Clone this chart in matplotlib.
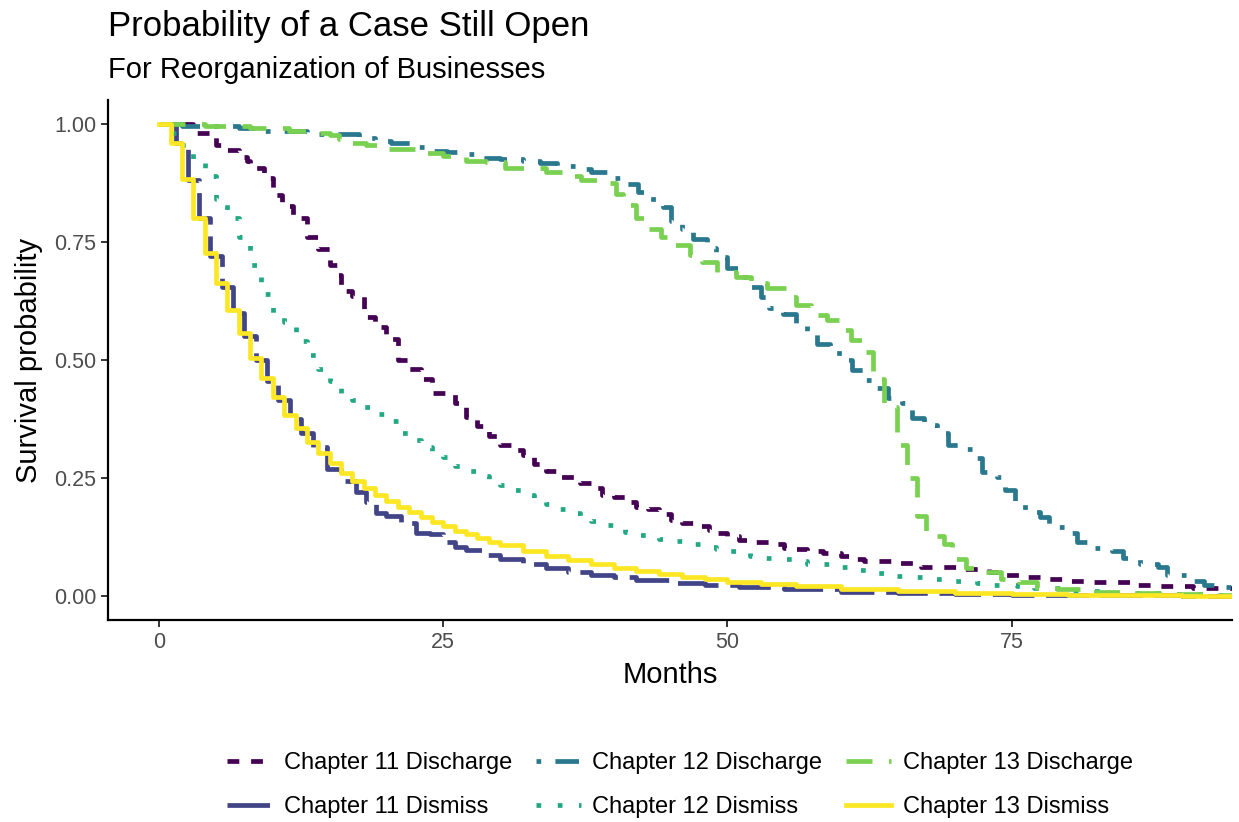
import matplotlib.pyplot as plt

plt.rcParams['font.family'] = ['Liberation Sans', 'DejaVu Sans']

# Kaplan-Meier style step curves (months, survival probability)
ch11_dis_t = [0, 3, 5, 6, 7, 7.7, 8, 9.2, 10, 10.8, 11.8, 13, 14, 15, 15.7, 16, 17, 18, 19, 20,
              21, 22, 23, 24, 26, 27, 28, 29, 30, 31, 32, 33, 34, 35, 37, 38, 39, 40, 41, 42,
              43, 44, 45, 46, 47, 48.4, 49, 50, 51, 52, 54, 55, 56, 57, 58.4, 60, 61, 62, 65,
              67, 70.5, 73, 74.5, 76, 78, 80, 81.5, 85.5, 87.5, 91, 96]
ch11_dis_s = [1.0, 0.98, 0.955, 0.945, 0.93, 0.92, 0.907, 0.885, 0.85, 0.825, 0.80, 0.76, 0.735,
              0.70, 0.68, 0.645, 0.635, 0.59, 0.57, 0.545, 0.50, 0.48, 0.46, 0.43, 0.41, 0.38,
              0.36, 0.34, 0.32, 0.31, 0.30, 0.28, 0.265, 0.253, 0.24, 0.23, 0.215, 0.21, 0.20,
              0.19, 0.184, 0.175, 0.162, 0.155, 0.148, 0.140, 0.135, 0.128, 0.12, 0.114, 0.11,
              0.103, 0.10, 0.095, 0.092, 0.085, 0.08, 0.075, 0.07, 0.063, 0.058, 0.051, 0.046,
              0.042, 0.037, 0.032, 0.03, 0.025, 0.021, 0.017, 0.015]

ch11_dism_t = [0, 1.5, 2.5, 3.5, 4.5, 5.5, 6.5, 7.5, 8.5, 9.5, 10.5, 11.5, 12.5, 13.5, 14.8, 16,
               17.3, 18.2, 19.1, 20, 21.3, 22.6, 23.8, 25, 26, 27, 28.5, 30, 32, 34, 36, 38,
               40, 42, 45, 48, 51, 55, 60, 65, 70, 75, 80, 90, 96]
ch11_dism_s = [1.0, 0.96, 0.88, 0.80, 0.72, 0.655, 0.60, 0.55, 0.50, 0.455, 0.415, 0.375,
               0.345, 0.315, 0.27, 0.245, 0.22, 0.20, 0.177, 0.17, 0.155, 0.135, 0.131, 0.115,
               0.105, 0.099, 0.088, 0.078, 0.068, 0.06, 0.052, 0.045, 0.04, 0.035, 0.029, 0.024,
               0.02, 0.015, 0.01, 0.007, 0.004, 0.003, 0.002, 0.001, 0.001]

ch12_dis_t = [0, 2, 7, 9, 13, 17.6, 19, 20.4, 22.2, 23.8, 25.3, 27, 28.4, 30, 32, 33.5, 35,
              36.7, 38, 39.5, 40.8, 42.1, 43, 44.3, 45, 46, 47, 48.2, 49, 50, 51, 52, 53, 53.7,
              54.9, 56, 57, 57.9, 59, 60.1, 61, 62, 62.8, 64.1, 65.4, 66.2, 67.3, 68.4, 69.4,
              70.7, 71.7, 72.4, 73.7, 74.4, 75.3, 76.2, 77.5, 78.3, 79.8, 80.8, 82.3, 83.8,
              84.8, 86.3, 87.9, 88.7, 90.5, 91.9, 93.6, 96]
ch12_dis_s = [1.0, 0.995, 0.99, 0.984, 0.978, 0.97, 0.964, 0.958, 0.95, 0.943, 0.939, 0.935,
              0.928, 0.926, 0.92, 0.916, 0.911, 0.905, 0.897, 0.886, 0.873, 0.856, 0.84, 0.823,
              0.795, 0.778, 0.757, 0.736, 0.717, 0.694, 0.675, 0.654, 0.633, 0.61, 0.597, 0.574,
              0.557, 0.534, 0.515, 0.50, 0.479, 0.458, 0.441, 0.42, 0.409, 0.378, 0.363, 0.346,
              0.321, 0.312, 0.293, 0.264, 0.253, 0.226, 0.198, 0.179, 0.167, 0.146, 0.135,
              0.116, 0.103, 0.095, 0.082, 0.068, 0.063, 0.046, 0.032, 0.025, 0.02, 0.018]

ch12_dism_t = [0, 1, 2, 3, 4, 5, 6, 7, 8, 9, 10, 11, 12, 13, 14, 15, 16, 17, 18, 19, 20, 21,
               22, 23, 24, 25, 26, 27, 28, 29, 30, 31, 32, 33, 34, 35, 36, 37, 38, 39, 40, 41,
               42, 43, 44, 45, 46, 47, 48, 49, 50, 51, 52, 53, 54, 56, 57, 59, 61, 63, 64.5,
               66, 68, 70, 72, 73.5, 75.5, 77, 80, 84, 88, 92, 96]
ch12_dism_s = [1.0, 0.98, 0.955, 0.92, 0.89, 0.84, 0.80, 0.76, 0.70, 0.64, 0.60, 0.58, 0.54,
               0.51, 0.48, 0.455, 0.43, 0.415, 0.40, 0.385, 0.37, 0.345, 0.33, 0.315, 0.305,
               0.295, 0.275, 0.265, 0.255, 0.245, 0.235, 0.225, 0.215, 0.20, 0.195, 0.185,
               0.177, 0.168, 0.16, 0.152, 0.143, 0.136, 0.129, 0.127, 0.122, 0.118, 0.113, 0.11,
               0.105, 0.10, 0.096, 0.092, 0.085, 0.082, 0.078, 0.074, 0.069, 0.062, 0.055, 0.05,
               0.044, 0.04, 0.036, 0.032, 0.029, 0.025, 0.021, 0.017, 0.012, 0.008, 0.005,
               0.003, 0.003]

ch13_dis_t = [0, 4, 8, 11.4, 13, 15, 15.8, 16.5, 18.2, 20, 23, 25, 27, 28.8, 30.4, 34, 35.7,
              37.1, 38.7, 40.2, 40.8, 42, 42.9, 44.2, 45.3, 46.7, 47.8, 49.1, 50.8, 52.1, 53.5,
              55.2, 56, 57.4, 58.8, 60.1, 60.9, 62.2, 62.8, 63.8, 64.9, 65.8, 66.7, 67.5, 69.1,
              69.8, 71, 72.4, 74.1, 75.7, 77.2, 79, 81.3, 85, 89, 92, 96]
ch13_dis_s = [1.0, 0.995, 0.99, 0.985, 0.98, 0.975, 0.968, 0.96, 0.955, 0.947, 0.937, 0.932,
              0.922, 0.918, 0.907, 0.897, 0.89, 0.88, 0.875, 0.852, 0.827, 0.80, 0.778, 0.76,
              0.743, 0.722, 0.707, 0.686, 0.675, 0.662, 0.652, 0.633, 0.616, 0.595, 0.584,
              0.563, 0.542, 0.517, 0.46, 0.40, 0.32, 0.25, 0.17, 0.127, 0.11, 0.078, 0.061,
              0.051, 0.036, 0.03, 0.018, 0.015, 0.01, 0.008, 0.005, 0.002, 0.002]

ch13_dism_t = [0, 1, 2, 3, 4, 5, 6, 7, 8, 9, 10, 11, 12, 13, 14, 15, 16, 17, 18, 19, 20, 21,
               22, 23, 24, 25, 26, 27, 28, 29, 30, 32, 34, 36, 38, 40, 42, 44, 46, 48, 50, 53,
               56, 60, 65, 70, 75, 80, 85, 90, 96]
ch13_dism_s = [1.0, 0.96, 0.883, 0.80, 0.726, 0.662, 0.605, 0.557, 0.504, 0.462, 0.422, 0.384,
               0.357, 0.327, 0.304, 0.283, 0.262, 0.243, 0.23, 0.215, 0.202, 0.19, 0.178, 0.167,
               0.157, 0.148, 0.139, 0.131, 0.123, 0.116, 0.109, 0.097, 0.086, 0.076, 0.068,
               0.06, 0.053, 0.047, 0.041, 0.036, 0.031, 0.026, 0.021, 0.016, 0.011, 0.007,
               0.005, 0.003, 0.002, 0.001, 0.001]

series = [
    ('Chapter 11 Discharge', ch11_dis_t, ch11_dis_s, '#440154', (0, (2.5, 2.5))),
    ('Chapter 11 Dismiss', ch11_dism_t, ch11_dism_s, '#414487', (0, (9, 2.5))),
    ('Chapter 12 Discharge', ch12_dis_t, ch12_dis_s, '#2A788E', (0, (1, 3, 5, 3))),
    ('Chapter 12 Dismiss', ch12_dism_t, ch12_dism_s, '#22A884', (0, (1, 3.5))),
    ('Chapter 13 Discharge', ch13_dis_t, ch13_dis_s, '#7AD151', (0, (5.5, 3.5))),
    ('Chapter 13 Dismiss', ch13_dism_t, ch13_dism_s, '#FDE725', '-'),
]

fig = plt.figure(figsize=(12.39, 8.22), dpi=100)
ax = fig.add_axes([108 / 1239, 1 - 620 / 822, (1232 - 108) / 1239, 520 / 822])

for name, t, s, col, ls in series:
    ax.step(t, s, where='post', color=col, linestyle=ls, linewidth=3.4, label=name)

ax.set_xlim(-4.5, 94.4)
ax.set_ylim(-0.05, 1.05)
ax.set_xticks([0, 25, 50, 75])
ax.set_yticks([0, 0.25, 0.5, 0.75, 1.0])
ax.set_yticklabels(['0.00', '0.25', '0.50', '0.75', '1.00'])
ax.tick_params(labelsize=15.5, labelcolor='#4D4D4D', length=5, width=1.1, color='black')
for side in ['top', 'right']:
    ax.spines[side].set_visible(False)
for side in ['left', 'bottom']:
    ax.spines[side].set_linewidth(1.6)

ax.set_xlabel('Months', fontsize=21, labelpad=6)
ax.set_ylabel('Survival probability', fontsize=21, labelpad=8)

fig.text(108 / 1239, 1 - 36 / 822, 'Probability of a Case Still Open', fontsize=25,
         ha='left', va='baseline')
fig.text(108 / 1239, 1 - 78 / 822, 'For Reorganization of Businesses', fontsize=21,
         ha='left', va='baseline')

fig.legend(loc='center', bbox_to_anchor=(680 / 1239, 1 - 785 / 822), ncol=3, frameon=False,
           fontsize=17, handlelength=1.9, handletextpad=0.5, columnspacing=1.0,
           labelspacing=0.95, borderpad=0)

fig.savefig('out.png', dpi=100)
